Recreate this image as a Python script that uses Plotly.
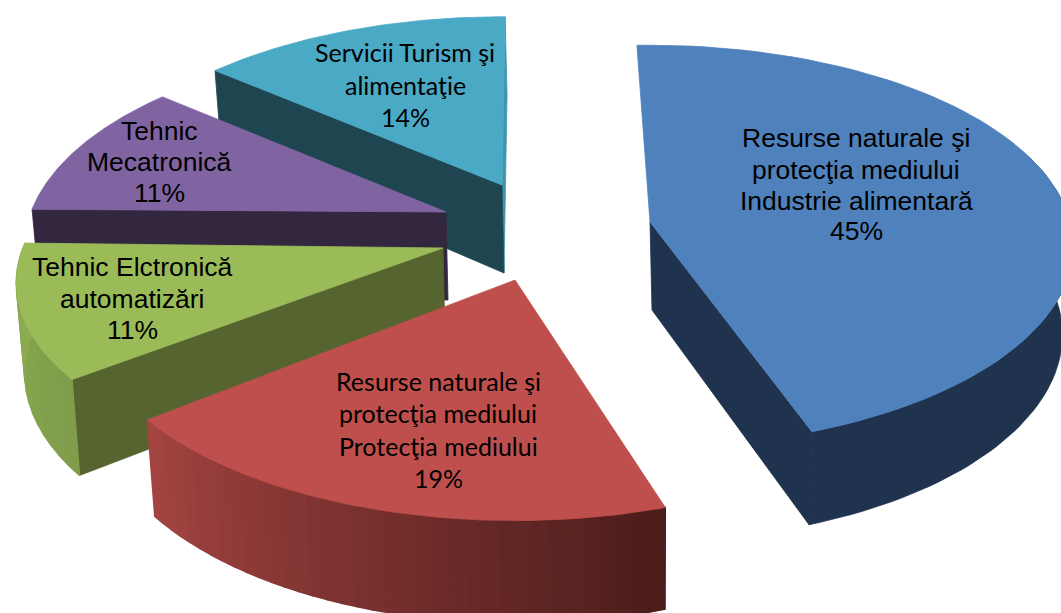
import math
import plotly.graph_objects as go

categories = [
    "Resurse naturale şi\nprotecţia mediului\nIndustrie alimentară",
    "Resurse naturale şi\nprotecţia mediului\nProtecţia mediului",
    "Tehnic Elctronică\nautomatizări",
    "Tehnic\nMecatronică",
    "Servicii Turism şi\nalimentaţie",
]
values = [45, 19, 11, 11, 14]

top_colors = ["#4F81BD", "#BE4F4C", "#9BBB59", "#8064A2", "#4AA9C4"]
face_colors = ["#1F334F", None, "#56652F", "#33273F", "#1E4550"]
wall_from = ["#1F334F", "#A34441", "#7F9D4A", "#33273F", "#1E4550"]
wall_to = ["#1F334F", "#4C1D1B", "#8DAC52", "#33273F", "#1E4550"]
sliver_color = "#3F95AD"

# pie geometry, one entry per slice:
# apex x, apex y, rx, ry, perspective, angle nudge, lower-rim x scale, lower-rim y scale
geometry = [
    (650, 222, 420, 198, 0.12, -2.0, 0.97, 1.024),
    (515, 280, 420, 198, 0.177, 0.7, 0.985, 1.06),
    (443, 248, 420, 190, 0.177, 1.5, 0.985, 1.06),
    (446, 212, 415, 198, 0.177, 0.8, 0.985, 1.06),
    (502, 185, 418, 198, 0.177, 0.5, 0.985, 1.06),
]
depth = 88
start_angle = -90
# label anchors: centre x and the y of each line
label_pos = [
    (856, [138, 170, 201, 231]),
    (438, [381, 413, 446, 478]),
    (132, [267, 299, 330]),
    (159, [131, 162, 193]),
    (405, [52, 85, 117]),
]
label_font = [
    ("Liberation Sans", 26.5), ("Lato", 25), ("Liberation Sans", 26.5),
    ("Liberation Sans", 26.5), ("Lato", 25),
]


def hex_rgb(c):
    return [int(c[i:i + 2], 16) for i in (1, 3, 5)]


def mix(a, b, f):
    ra, rb = hex_rgb(a), hex_rgb(b)
    return "rgb(%d,%d,%d)" % tuple(round(x + (y - x) * f) for x, y in zip(ra, rb))


def rim(g, theta, bottom=False):
    ax, ay, rx, ry, k = g[:5]
    t = math.radians(theta)
    w = 1 - k * math.sin(t)
    x, y = rx * math.cos(t) / w, ry * math.sin(t) / w
    if bottom:
        return ax + 2 + x * g[6], ay + depth + y * g[7]
    return ax + x, ay + y


def apex(g, bottom=False):
    return (g[0] + 2, g[1] + depth) if bottom else (g[0], g[1])


fig = go.Figure()


def poly(points, color, lw=0.8):
    xs = [p[0] for p in points] + [points[0][0]]
    ys = [p[1] for p in points] + [points[0][1]]
    fig.add_trace(go.Scatter(x=xs, y=ys, mode="lines", fill="toself", fillcolor=color,
                             line=dict(color=color, width=lw), hoverinfo="skip",
                             showlegend=False))


total = sum(values)
angles = []
a = start_angle
for v in values:
    b = a + v / total * 360
    angles.append((a, b))
    a = b


def arc_range(i):
    g = geometry[i]
    return angles[i][0] + g[5], angles[i][1] + g[5]


def draw_cut(i, theta, color=None):
    g = geometry[i]
    poly([apex(g), rim(g, theta), rim(g, theta, True), apex(g, True)], color or face_colors[i])


def draw_wall(i, t0, t1, n=40):
    g = geometry[i]
    for s in range(n):
        u0 = t0 + (t1 - t0) * s / n
        u1 = t0 + (t1 - t0) * (s + 1) / n
        f = s / max(n - 1, 1)
        color = mix(wall_from[i], wall_to[i], f)
        poly([rim(g, u0), rim(g, u1), rim(g, u1, True), rim(g, u0, True)], color, 1.5)


def draw_solid_wall(i, t0, t1, n=60):
    g = geometry[i]
    us = [t0 + (t1 - t0) * j / n for j in range(n + 1)]
    pts = [rim(g, u) for u in us] + [rim(g, u, True) for u in reversed(us)]
    poly(pts, wall_from[i])


def draw_top(i):
    g = geometry[i]
    t0, t1 = arc_range(i)
    pts = [apex(g)] + [rim(g, t0 + (t1 - t0) * j / 80) for j in range(81)]
    poly(pts, top_colors[i])


# back to front: teal, purple, green, red, blue
draw_cut(4, arc_range(4)[1], sliver_color)
draw_cut(4, arc_range(4)[0])
draw_top(4)
draw_cut(3, arc_range(3)[0])
draw_top(3)
draw_cut(2, arc_range(2)[0])
draw_wall(2, arc_range(2)[0], arc_range(2)[1], 14)
draw_top(2)
t0, t1 = arc_range(1)
draw_wall(1, t1, t0, 36)
draw_top(1)
t0, t1 = arc_range(0)
draw_cut(0, t1)
draw_solid_wall(0, -20, t1)
draw_top(0)

for cat, v, (cx, ys), (fam, size) in zip(categories, values, label_pos, label_font):
    lines = cat.split("\n") + [f"{v}%"]
    for line, y in zip(lines, ys):
        fig.add_annotation(x=cx, y=y, text=line, showarrow=False, xanchor="center",
                           yanchor="middle", font=dict(family=fam, size=size, color="#000000"))

fig.update_layout(
    width=1061, height=613, margin=dict(l=0, r=0, t=0, b=0),
    paper_bgcolor="#FFFFFF", plot_bgcolor="#FFFFFF", showlegend=False,
    xaxis=dict(range=[0, 1061], visible=False, fixedrange=True),
    yaxis=dict(range=[613, 0], visible=False, fixedrange=True),
)
fig.write_html("out.html", config={"displayModeBar": False},
               post_script="document.body.style.margin='0';document.body.style.overflow='hidden';")
